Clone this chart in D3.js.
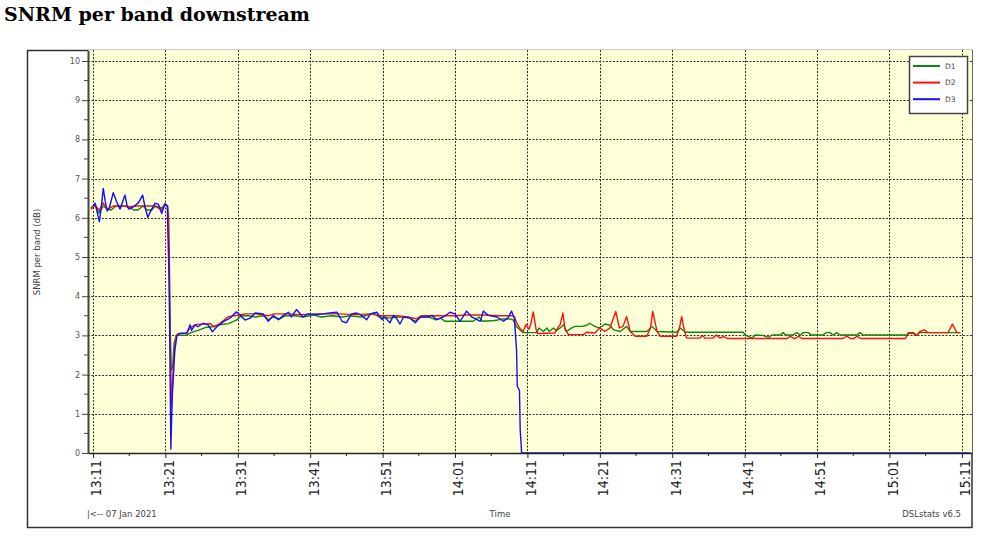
<!DOCTYPE html>
<html>
<head>
<meta charset="utf-8">
<script src="https://cdn.jsdelivr.net/npm/d3@7"></script>
<style>
  body { margin: 0; background: #fff; }
</style>
</head>
<body>
<svg id="chart" width="999" height="544"></svg>
<script>
// minutes after 13:11, SNRM in dB
const tickMinutes = [0, 10, 20, 30, 40, 50, 60, 70, 80, 90, 100, 110, 120];
const tickLabels = ["13:11", "13:21", "13:31", "13:41", "13:51", "14:01", "14:11",
                    "14:21", "14:31", "14:41", "14:51", "15:01", "15:11"];
const minorMinutes = [5, 15, 25, 35, 45, 55, 65, 75, 85, 95, 105, 115];
const yTicks = [0, 1, 2, 3, 4, 5, 6, 7, 8, 9, 10];
const yMinor = [0.5, 1.5, 2.5, 3.5, 4.5, 5.5, 6.5, 7.5, 8.5, 9.5];
const bands = ["D1", "D2", "D3"];

const d1 = [[-0.3,6.25],[0.3,6.35],[0.8,6.12],[1.4,6.3],[2.0,6.22],[2.5,6.2],[3.2,6.3],[4.4,6.3],[5.0,6.28],[5.6,6.2],[6.2,6.2],[6.9,6.3],[7.5,6.2],[8.1,6.2],[8.6,6.3],[9.5,6.25],[10.0,6.35],[10.3,6.3],
  [10.45,5.4],[10.6,3.8],[10.8,2.1],[11.0,2.2],[11.2,2.8],[11.5,3.0],[12.9,3.0],[13.5,3.07],[14.5,3.13],[15.5,3.2],[16.5,3.22],[17.5,3.27],[18.7,3.3],[19.8,3.39],[20.5,3.5],
  [21.5,3.5],[22.4,3.47],[23.5,3.5],[24.3,3.4],[24.9,3.47],[25.8,3.42],[26.5,3.5],[28.0,3.5],[29.0,3.47],[30.5,3.52],[31.5,3.47],[33.0,3.5],[34.5,3.47],[35.5,3.5],[37.0,3.47],[38.8,3.57],[39.5,3.47],[41.0,3.44],[42.0,3.47],[43.5,3.47],[44.5,3.36],[45.3,3.47],[46.3,3.47],[47.3,3.4],[48.0,3.44],[48.6,3.36],[52.5,3.36],[53.3,3.47],[53.8,3.36],[55.5,3.38],[56.7,3.42],[57.6,3.42],[58.0,3.4],[58.5,3.22],[59.0,3.14],[59.4,3.07],
  [61.3,3.07],[61.6,3.19],[62.2,3.1],[62.7,3.19],[63.0,3.1],[63.6,3.19],[64.0,3.12],[64.5,3.19],[65.0,3.27],[65.4,3.1],[66.1,3.19],[66.6,3.23],[67.5,3.23],[68.2,3.26],[68.6,3.31],[69.3,3.23],[69.8,3.19],[70.3,3.23],[70.7,3.29],[71.4,3.26],[71.9,3.14],[72.8,3.1],[73.7,3.23],[74.2,3.1],[76.5,3.1],[77.2,3.23],[77.9,3.1],[80.6,3.08],[81.1,3.19],[81.8,3.08],
  [89.8,3.08],[90.1,3.01],[91.0,2.93],[91.5,3.01],[92.5,3.0],[93.3,2.95],[93.8,3.01],[94.9,3.01],[95.3,3.07],[95.7,3.01],[96.7,3.01],[97.2,3.07],[97.7,3.01],[98.1,3.07],[98.8,3.07],[99.2,3.01],[100.8,3.01],[101.3,3.07],[101.8,3.07],[102.2,3.01],[102.7,3.07],[103.2,3.01],[105.5,3.01],[105.9,3.07],[106.4,3.01],[112.4,3.01],[112.6,3.07],[113.3,3.07],[113.7,3.01],[114.2,3.07],[119.8,3.07]];

const d2 = [[-0.3,6.22],[0.3,6.3],[0.9,6.2],[1.4,6.38],[1.7,6.28],[2.0,6.22],[2.8,6.3],[4.0,6.3],[5.0,6.28],[6.0,6.3],[7.5,6.3],[8.5,6.3],[9.5,6.2],[9.9,6.35],[10.3,6.3],
  [10.45,6.0],[10.55,5.0],[10.65,3.0],[10.85,1.2],[11.1,2.2],[11.3,2.7],[11.5,3.0],[11.8,3.05],[12.9,3.05],[13.4,3.2],[14.3,3.28],[16.2,3.3],[16.7,3.22],[17.5,3.3],[18.7,3.48],[19.5,3.5],[20.3,3.52],[21.0,3.55],
  [22.5,3.55],[24.2,3.5],[25.0,3.55],[27.0,3.55],[28.5,3.53],[31.0,3.55],[34.0,3.55],[36.0,3.53],[38.5,3.55],[39.5,3.5],[42.0,3.5],[43.5,3.47],[44.7,3.42],[45.3,3.5],[48.5,3.5],[50.0,3.5],[51.5,3.52],[54.0,3.52],[56.0,3.5],[57.8,3.5],[58.2,3.48],
  [58.5,3.32],[59.0,3.17],[59.4,3.1],[59.8,3.28],[60.2,3.15],[60.5,3.31],[60.8,3.6],[61.2,3.15],[61.4,3.05],[63.8,3.06],[64.0,3.14],[64.5,3.27],[64.9,3.57],[65.2,3.15],[65.7,3.02],[67.7,3.02],[68.2,3.08],[69.3,3.06],[70.0,3.19],[70.7,3.1],[71.4,3.19],[72.2,3.61],[72.7,3.19],[73.2,3.23],[73.7,3.48],[74.2,3.1],[74.9,2.98],[76.5,2.98],[77.0,3.19],[77.3,3.61],[77.9,3.1],[78.3,2.98],[80.6,2.98],[81.0,3.19],[81.3,3.48],[81.7,3.1],[82.0,2.93],
  [83.8,2.93],[84.2,3.0],[84.5,2.93],[85.6,2.93],[86.1,3.01],[86.6,2.93],[87.1,2.97],[87.7,2.92],[95.9,2.92],[96.3,2.98],[96.8,2.92],[97.0,2.92],[97.4,2.98],[97.9,2.92],[103.6,2.92],[104.1,2.98],[104.6,2.92],[105.1,2.92],[105.5,2.98],[106.0,2.92],
  [112.2,2.92],[112.6,3.05],[113.3,3.05],[113.8,3.0],[114.2,3.1],[114.8,3.14],[115.3,3.07],[118.1,3.07],[118.7,3.29],[119.3,3.07],[119.8,3.07]];

const d3v = [[0,6.3],[0.3,6.37],[0.6,6.12],[0.87,5.9],[1.1,6.2],[1.42,6.75],[1.7,6.41],[1.96,6.17],[2.25,6.25],[2.8,6.64],[3.27,6.41],[3.73,6.22],[4.42,6.58],[4.74,6.28],[5.0,6.22],[5.57,6.28],[6.26,6.38],[6.86,6.58],[7.18,6.28],[7.56,6.01],[8.1,6.22],[8.56,6.37],[9.02,6.35],[9.49,6.11],[9.94,6.36],[10.26,6.3],
  [10.5,4.5],[10.6,3.0],[10.75,0.1],[10.95,1.44],[11.3,2.63],[11.6,2.99],[12.0,3.05],[13.0,3.06],[13.4,3.27],[13.6,3.13],[14.1,3.27],[14.5,3.22],[15.2,3.31],[15.9,3.27],[16.5,3.09],[17.1,3.22],[18.0,3.35],[18.9,3.44],[19.8,3.6],[20.3,3.52],[21.0,3.39],[21.7,3.44],[22.4,3.57],
  [23.5,3.55],[24.2,3.36],[24.9,3.51],[25.6,3.4],[26.3,3.51],[27.0,3.59],[27.4,3.47],[28.1,3.66],[29.0,3.47],[29.7,3.55],[30.9,3.53],[31.8,3.55],[32.7,3.57],[33.7,3.59],[34.4,3.36],[35.0,3.32],[35.7,3.55],[36.4,3.57],[37.1,3.51],[37.8,3.4],[38.3,3.55],[39.2,3.59],[39.9,3.4],[40.3,3.47],[41.0,3.32],[41.5,3.51],[41.9,3.44],[42.4,3.29],[42.9,3.47],[43.8,3.44],[44.5,3.32],[45.2,3.47],[46.3,3.47],[46.8,3.51],[47.5,3.4],[48.4,3.47],[49.3,3.59],[50.0,3.55],[50.7,3.36],[51.6,3.62],[52.3,3.47],[53.5,3.36],[53.9,3.62],[54.6,3.51],[55.8,3.47],[56.7,3.36],[57.4,3.47],[57.8,3.62],[58.2,3.44],
  [58.5,2.6],[58.6,1.7],[58.9,1.6],[59.0,0.6],[59.2,0],[121.2,0]];

const colors = ["#0a8a0a", "#ff1010", "#1010ff"];

// plot box inside the frame
const plotLeft = 88, plotRight = 972, plotTop = 50, plotBottom = 453;

const svg = d3.select("#chart");

svg.append("text")
    .attr("x", 4).attr("y", 21)
    .style("font-family", "'DejaVu Serif', serif")
    .style("font-weight", "bold")
    .style("font-size", "19px")
    .text("SNRM per band downstream");

const x = d3.scaleLinear().domain([-0.69, 121.4]).range([plotLeft, plotRight]);
const y = d3.scaleLinear().domain([0, 10.28]).range([plotBottom, plotTop]);

// outer frame
svg.append("rect")
    .attr("x", 27.5).attr("y", 50.5)
    .attr("width", plotRight - 27.5).attr("height", 477)
    .attr("fill", "#fff").attr("stroke", "#333").attr("stroke-width", 1.5);

// plot background
svg.append("rect")
    .attr("x", plotLeft).attr("y", plotTop)
    .attr("width", plotRight - plotLeft).attr("height", plotBottom - plotTop)
    .attr("fill", "#ffffd8");

// grid
const grid = svg.append("g")
    .attr("stroke", "#333").attr("stroke-width", 1).attr("stroke-dasharray", "2,1.5");
grid.selectAll(".hg").data(yTicks.slice(1)).join("line")
    .attr("x1", plotLeft).attr("x2", plotRight)
    .attr("y1", d => Math.round(y(d)) + 0.5).attr("y2", d => Math.round(y(d)) + 0.5);
grid.selectAll(".vg").data(tickMinutes).join("line")
    .attr("x1", d => Math.round(x(d)) + 0.5).attr("x2", d => Math.round(x(d)) + 0.5)
    .attr("y1", plotTop).attr("y2", plotBottom);

// lines
svg.append("clipPath").attr("id", "clip")
  .append("rect").attr("x", plotLeft).attr("y", plotTop)
    .attr("width", plotRight - plotLeft).attr("height", plotBottom - plotTop + 1);

const line = d3.line().x(d => x(d[0])).y(d => y(d[1]));
svg.append("g").attr("clip-path", "url(#clip)")
  .selectAll("path").data([d1, d2, d3v]).join("path")
    .attr("d", line)
    .attr("fill", "none")
    .attr("stroke", (d, i) => colors[i])
    .attr("stroke-width", 1.4)
    .attr("stroke-linejoin", "round");

// y axis
const yAxis = svg.append("g")
    .attr("transform", `translate(${plotLeft},0)`)
    .call(d3.axisLeft(y).tickValues(yTicks).tickSize(6).tickSizeOuter(0).tickPadding(2));
yAxis.select(".domain").attr("stroke", "#444").attr("stroke-width", 2);
yAxis.selectAll(".tick line").attr("stroke", "#444");
yAxis.selectAll(".tick text")
    .style("font-family", "'DejaVu Sans', sans-serif")
    .style("font-size", "8px").attr("fill", "#555");
yAxis.append("g").selectAll("line").data(yMinor).join("line")
    .attr("x1", -4).attr("x2", 0)
    .attr("y1", d => y(d)).attr("y2", d => y(d))
    .attr("stroke", "#444");

// x axis
const xAxis = svg.append("g")
    .attr("transform", `translate(0,${plotBottom})`)
    .call(d3.axisBottom(x).tickValues(tickMinutes).tickSize(5).tickSizeOuter(0)
      .tickFormat((d, i) => tickLabels[i]));
xAxis.select(".domain").attr("stroke", "#222").attr("stroke-width", 1.5);
xAxis.selectAll(".tick line").attr("stroke", "#222");
xAxis.selectAll(".tick text")
    .style("font-family", "'DejaVu Sans', sans-serif")
    .style("font-stretch", "condensed")
    .style("font-size", "14px")
    .attr("fill", "#222")
    .attr("text-anchor", "end")
    .attr("transform", "translate(3,0) rotate(-90)")
    .attr("x", -7).attr("y", 0).attr("dy", "0.35em");
xAxis.append("g").selectAll("line").data(minorMinutes).join("line")
    .attr("x1", d => x(d)).attr("x2", d => x(d))
    .attr("y1", 0).attr("y2", 3)
    .attr("stroke", "#222");

// axis titles and footer
const small = { "font-family": "'DejaVu Sans', sans-serif", "font-size": "8.5px", "fill": "#444" };
function smallText(tx, ty, anchor, label, rot) {
  const t = svg.append("text")
      .attr("x", tx).attr("y", ty)
      .attr("text-anchor", anchor)
      .style("font-family", small["font-family"])
      .style("font-size", small["font-size"])
      .attr("fill", small.fill)
      .text(label);
  if (rot) t.attr("transform", `rotate(-90,${tx},${ty})`);
  return t;
}
smallText(40, 252, "middle", "SNRM per band (dB)", true);
smallText(87, 517, "start", "|<-- 07 Jan 2021");
smallText(500, 517, "middle", "Time");
smallText(961, 517, "end", "DSLstats v6.5");

// legend
const legend = svg.append("g").attr("transform", "translate(909,56)");
legend.append("rect")
    .attr("x", 0.5).attr("y", 0.5).attr("width", 58).attr("height", 57)
    .attr("fill", "#fff").attr("stroke", "#444").attr("stroke-width", 1.5);
const items = legend.selectAll(".item").data(bands).join("g")
    .attr("transform", (d, i) => `translate(0,${10 + i * 16.6})`);
items.append("line")
    .attr("x1", 4).attr("x2", 31)
    .attr("stroke", (d, i) => colors[i]).attr("stroke-width", 2);
items.append("text")
    .attr("x", 36).attr("dy", "0.35em")
    .style("font-family", "'DejaVu Sans', sans-serif")
    .style("font-size", "7.5px")
    .attr("fill", "#444")
    .text(d => d);
</script>
</body>
</html>
